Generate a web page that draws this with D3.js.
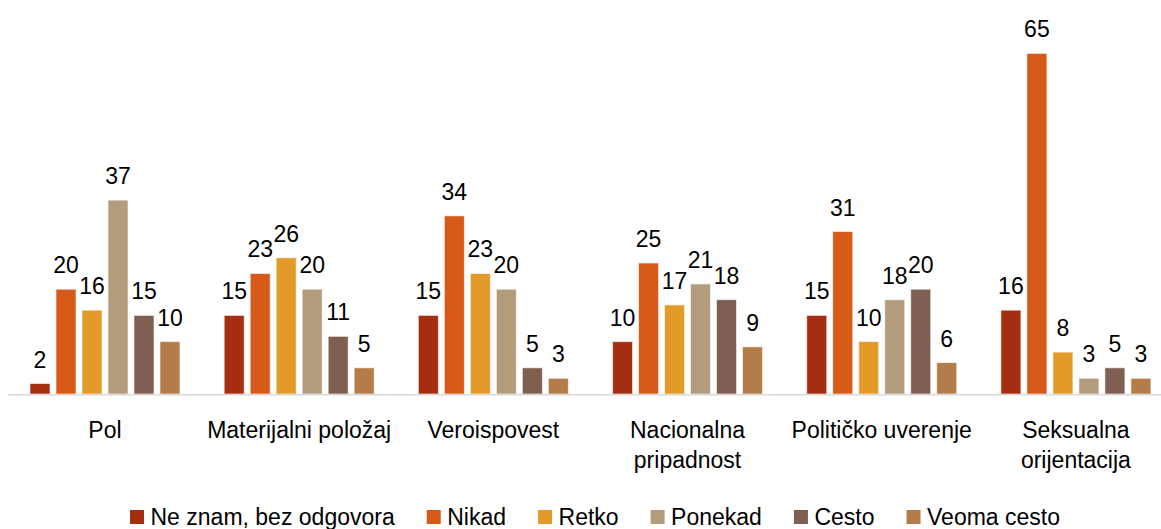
<!DOCTYPE html>
<html>
<head>
<meta charset="utf-8">
<script src="https://cdnjs.cloudflare.com/ajax/libs/d3/7.8.5/d3.min.js"></script>
<style>
  body { margin: 0; background: #fff; }
  svg text { font-family: "Liberation Sans", Arial, sans-serif; fill: #000; }
</style>
</head>
<body>
<svg id="chart" width="1161" height="529"></svg>
<script>
// ----- data -----
var categories = ["Pol", "Materijalni položaj", "Veroispovest", "Nacionalna pripadnost", "Političko uverenje", "Seksualna orijentacija"];
// labels split on lines as in the original
var category_lines = [["Pol"], ["Materijalni položaj"], ["Veroispovest"], ["Nacionalna", "pripadnost"], ["Političko uverenje"], ["Seksualna", "orijentacija"]];
var series = ["Ne znam, bez odgovora", "Nikad", "Retko", "Ponekad", "Cesto", "Veoma cesto"];
var colors = ["#a52d10", "#d75a18", "#e29a29", "#b39c7c", "#7e5f51", "#b37c48"];

var ne_znam = [2, 15, 15, 10, 15, 16];
var nikad = [20, 23, 34, 25, 31, 65];
var retko = [16, 26, 23, 17, 10, 8];
var ponekad = [37, 20, 20, 21, 18, 3];
var cesto = [15, 11, 5, 18, 20, 5];
var veoma_cesto = [10, 5, 3, 9, 6, 3];

var values = [ne_znam, nikad, retko, ponekad, cesto, veoma_cesto];

// ----- setup -----
var svg = d3.select("#chart");
var baseline = 394;

var x = d3.scaleBand()
    .domain(categories)
    .range([7.9, 1173]);

var xi = d3.scaleBand()
    .domain(series)
    .range([0, x.bandwidth()])
    .paddingInner(0.23)
    .paddingOuter(0.85);

var y = d3.scaleLinear()
    .domain([0, 70])
    .range([baseline, 27.2]);

// build rows for drawing
var rows = [];
categories.forEach(function(c, ci){
    series.forEach(function(s, si){
        rows.push({cat: c, ser: s, si: si, v: values[si][ci]});
    });
});

// ----- bars -----
svg.append("g").selectAll("rect")
    .data(rows)
    .enter().append("rect")
    .attr("x", function(d){ return x(d.cat) + xi(d.ser); })
    .attr("y", function(d){ return y(d.v); })
    .attr("width", xi.bandwidth())
    .attr("height", function(d){ return baseline - y(d.v); })
    .attr("fill", function(d){ return colors[d.si]; })
    .attr("stroke", "#ffffff")
    .attr("stroke-opacity", 0.6)
    .attr("stroke-width", 1);

// value labels
svg.append("g").selectAll("text")
    .data(rows)
    .enter().append("text")
    .attr("x", function(d){ return x(d.cat) + xi(d.ser) + xi.bandwidth()/2; })
    .attr("y", function(d){ return y(d.v) - 16; })
    .attr("text-anchor", "middle")
    .style("font-size", "23px")
    .text(function(d){ return d.v; });

// axis line
svg.append("line")
    .attr("x1", 7.9).attr("x2", 1161)
    .attr("y1", baseline + 0.75).attr("y2", baseline + 0.75)
    .attr("stroke", "#d9d9d9")
    .attr("stroke-width", 1.5);

// category labels
var cat_g = svg.append("g");
categories.forEach(function(c, ci){
    var t = cat_g.append("text")
        .attr("text-anchor", "middle")
        .style("font-size", "23px");
    category_lines[ci].forEach(function(line, li){
        t.append("tspan")
            .attr("x", x(c) + x.bandwidth()/2)
            .attr("y", 438 + li*30)
            .text(line);
    });
});

// ----- legend -----
var legend = svg.append("g");
var pos = 0;
var items = [];
series.forEach(function(s, si){
    var g = legend.append("g");
    g.append("rect")
        .attr("x", 0).attr("y", 510)
        .attr("width", 14).attr("height", 14)
        .attr("fill", colors[si]);
    var t = g.append("text")
        .attr("x", 20.5).attr("y", 525)
        .style("font-size", "23px")
        .text(s);
    var w = t.node().getComputedTextLength();
    g.attr("transform", "translate(" + pos + ",0)");
    pos += 20.5 + w + 32;
    items.push(g);
});
var total = pos - 32;
legend.attr("transform", "translate(" + (595 - total/2) + ",0)");
</script>
</body>
</html>
